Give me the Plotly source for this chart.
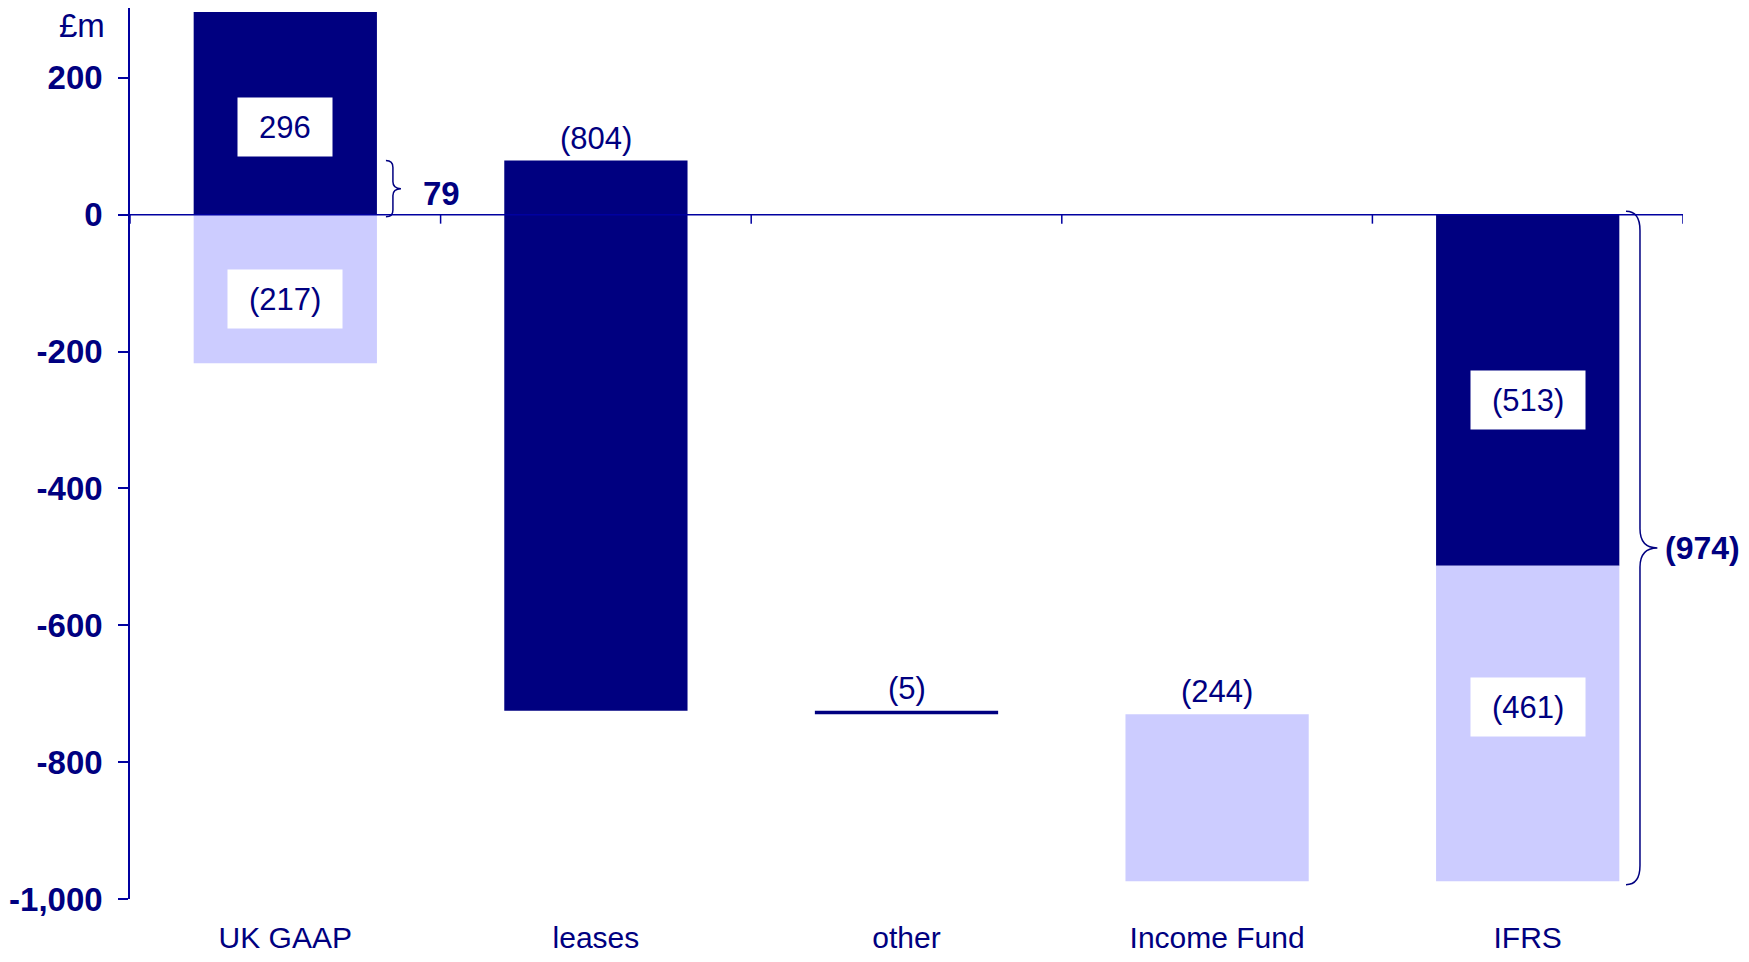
import numpy as np
import plotly.graph_objects as go

# data (£m)
categories = ["UK GAAP", "leases", "other", "Income Fund", "IFRS"]
uk_gaap_dark = 296
uk_gaap_light = -217
adjustments = [-804, -5, -244]          # leases, other, Income Fund
adjustment_shade = ["dark", "dark", "light"]
ifrs_dark = -513
ifrs_light = -461
y_tick_values = [-1000, -800, -600, -400, -200, 0, 200]
y_tick_labels = ["-1,000", "-800", "-600", "-400", "-200", "0", "200"]

NAVY = "#000080"
LILAC = "#CCCCFF"
AXIS = "#0000A0"
FONT = "Liberation Sans, Arial, sans-serif"


def fmt(v):
    return f"({abs(v)})" if v < 0 else f"{v}"


def text_width(s, size=31):
    return sum(0.333 * size if ch in "()" else 0.556 * size for ch in s)


# waterfall bases
uk_gaap_net = uk_gaap_dark + uk_gaap_light
adj_bases = uk_gaap_net + np.concatenate([[0], np.cumsum(adjustments)[:-1]])
ifrs_total = ifrs_dark + ifrs_light

dark_x, dark_y, dark_base = ["UK GAAP"], [uk_gaap_dark], [0]
light_x, light_y, light_base = ["UK GAAP"], [uk_gaap_light], [0]
for cat, val, b, shade in zip(categories[1:4], adjustments, adj_bases, adjustment_shade):
    if shade == "dark":
        dark_x.append(cat); dark_y.append(val); dark_base.append(float(b))
    else:
        light_x.append(cat); light_y.append(val); light_base.append(float(b))
dark_x.append("IFRS"); dark_y.append(ifrs_dark); dark_base.append(0)
light_x.append("IFRS"); light_y.append(ifrs_light); light_base.append(ifrs_dark)

fig = go.Figure()
fig.add_trace(go.Bar(x=dark_x, y=dark_y, base=dark_base, marker_color=NAVY,
                     marker_line_width=0, width=0.59, hoverinfo="skip"))
fig.add_trace(go.Bar(x=light_x, y=light_y, base=light_base, marker_color=LILAC,
                     marker_line_width=0, width=0.59, hoverinfo="skip"))

annotations = []
# boxed labels on the stacked bars (yshift in px nudges them like the original)
for cat, val, b, ys in [("UK GAAP", uk_gaap_dark, 0, -14), ("UK GAAP", uk_gaap_light, 0, -10),
                        ("IFRS", ifrs_dark, 0, -10), ("IFRS", ifrs_light, ifrs_dark, 16)]:
    s = fmt(val)
    annotations.append(dict(x=cat, y=b + val / 2, text=s, showarrow=False, yshift=ys,
                            font=dict(family=FONT, size=31, color=NAVY),
                            bgcolor="white", borderpad=10,
                            width=text_width(s) + 22, height=38))
# labels above the floating bars
for cat, val, b in zip(categories[1:4], adjustments, adj_bases):
    annotations.append(dict(x=cat, y=float(b), text=fmt(val), showarrow=False,
                            yanchor="bottom", yshift=3,
                            font=dict(family=FONT, size=31, color=NAVY)))
# brace totals
annotations.append(dict(x=0.1874, xref="paper", y=uk_gaap_net / 2, text=f"<b>{fmt(uk_gaap_net)}</b>",
                        showarrow=False, xanchor="left", yanchor="middle", yshift=-6,
                        font=dict(family=FONT, size=33, color=NAVY)))
annotations.append(dict(x=0.987, xref="paper", y=ifrs_total / 2, text=f"<b>{fmt(ifrs_total)}</b>",
                        showarrow=False, xanchor="left", yanchor="middle",
                        font=dict(family=FONT, size=32, color=NAVY)))
annotations.append(dict(x=-0.0148, xref="paper", y=0.98, yref="paper", text="£m",
                        showarrow=False, xanchor="right", yanchor="middle",
                        font=dict(family=FONT, size=33, color=NAVY)))


def brace(xo, xs, xt, y_top, y_bot, c):
    ym = (y_top + y_bot) / 2
    return (f"M {xo},{y_top} Q {xs},{y_top} {xs},{y_top - c} "
            f"L {xs},{ym + c} Q {xs},{ym} {xt},{ym} "
            f"Q {xs},{ym} {xs},{ym - c} "
            f"L {xs},{y_bot + c} Q {xs},{y_bot} {xo},{y_bot}")


shapes = [
    dict(type="path", xref="paper", yref="y",
         path=brace(0.1648, 0.1693, 0.1745, uk_gaap_net, -3, 10),
         line=dict(color=NAVY, width=1.5)),
    dict(type="path", xref="paper", yref="y",
         path=brace(0.9633, 0.9723, 0.9835, 5, ifrs_total - 5, 28),
         line=dict(color=NAVY, width=1.5)),
    # category axis drawn along zero
    dict(type="line", xref="paper", yref="y", x0=0, x1=1, y0=0, y1=0,
         line=dict(color=AXIS, width=1.5), layer="above"),
]
for i in range(len(categories) + 1):
    shapes.append(dict(type="line", xref="x", yref="y", ysizemode="pixel", yanchor=0,
                       x0=i - 0.5, x1=i - 0.5, y0=0, y1=-9,
                       line=dict(color=AXIS, width=1.5)))

# page body has an 8px margin, so the figure is sized to fit inside the window
fig.update_layout(
    width=1733, height=946,
    margin=dict(l=122, r=58, t=0, b=55),
    paper_bgcolor="white", plot_bgcolor="white",
    barmode="overlay", showlegend=False,
    annotations=annotations, shapes=shapes,
)
fig.update_xaxes(categoryorder="array", categoryarray=categories, range=[-0.5, 4.5],
                 showline=False, showgrid=False, zeroline=False, ticks="",
                 ticklabelstandoff=18, automargin=False,
                 tickfont=dict(family=FONT, size=30, color=NAVY))
fig.update_yaxes(range=[-1000, 302], tickvals=y_tick_values, ticktext=y_tick_labels,
                 showline=True, linecolor=AXIS, linewidth=1.5,
                 ticks="outside", ticklen=10, tickcolor=AXIS, tickwidth=1.5,
                 showgrid=False, zeroline=False, ticklabelstandoff=9, automargin=False,
                 tickfont=dict(family=FONT, size=33, color=NAVY, weight="bold"))

fig.write_html("out.html")
